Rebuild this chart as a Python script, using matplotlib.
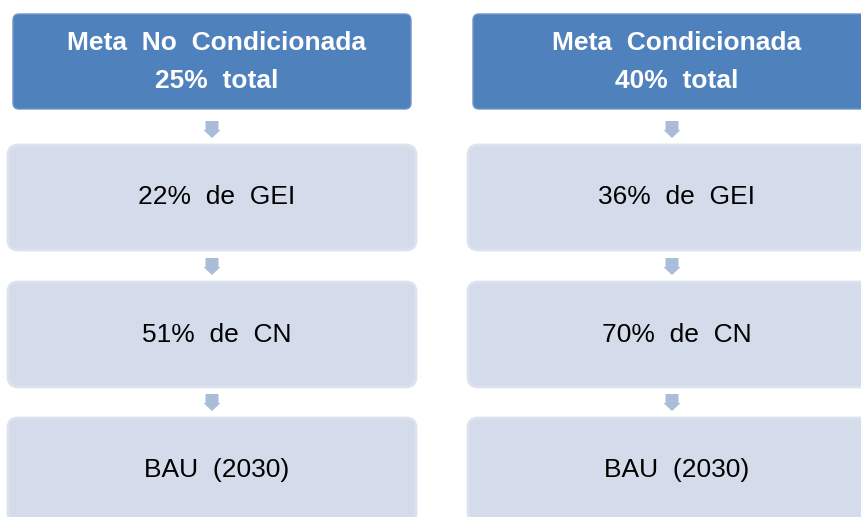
import matplotlib
matplotlib.use("Agg")
import matplotlib.pyplot as plt
from matplotlib.patches import FancyBboxPatch, Polygon

plt.rcParams['font.family'] = ['Liberation Sans', 'DejaVu Sans']

headers = ["Meta  No  Condicionada\n25%  total", "Meta  Condicionada\n40%  total"]
steps = [["22%  de  GEI", "51%  de  CN", "BAU  (2030)"],
         ["36%  de  GEI", "70%  de  CN", "BAU  (2030)"]]

W, H = 862, 517
fig = plt.figure(figsize=(W/100, H/100), dpi=100)
ax = fig.add_axes([0, 0, 1, 1])
ax.set_xlim(0, W)
ax.set_ylim(H, 0)
ax.axis('off')

dark = '#4F81BD'
light = '#D4DBEA'
light_edge = '#DCE2EE'
arrow_c = '#A9BCD8'

col_x = [8, 468]
col_w = 408
step_y = [145, 282, 418]
step_h = 105
text_dx = 5

for c in range(2):
    x0 = col_x[c]
    # header
    hb = FancyBboxPatch((x0 + 5, 14), col_w - 10, 95,
                        boxstyle="round,pad=0,rounding_size=6",
                        fc=dark, ec='#6D96C9', lw=1)
    ax.add_patch(hb)
    ax.text(x0 + col_w/2 + text_dx, 62, headers[c], ha='center', va='center',
            color='white', fontsize=19, fontweight='bold', linespacing=1.72)
    for i, lab in enumerate(steps[c]):
        y0 = step_y[i]
        b = FancyBboxPatch((x0, y0), col_w, step_h,
                           boxstyle="round,pad=0,rounding_size=10",
                           fc=light, ec=light_edge, lw=2)
        ax.add_patch(b)
        ax.text(x0 + col_w/2 + text_dx, y0 + step_h/2, lab, ha='center', va='center',
                color='black', fontsize=19)
        # arrow above the box
        cx = x0 + col_w/2
        top = y0 - 24
        bot = y0 - 7
        shaft = 6.5
        head = 8.5
        mid = top + 9
        pts = [(cx - shaft, top), (cx + shaft, top), (cx + shaft, mid),
               (cx + head, mid), (cx, bot), (cx - head, mid), (cx - shaft, mid)]
        ax.add_patch(Polygon(pts, closed=True, fc=arrow_c, ec='none'))

fig.savefig('out.png', dpi=100)
